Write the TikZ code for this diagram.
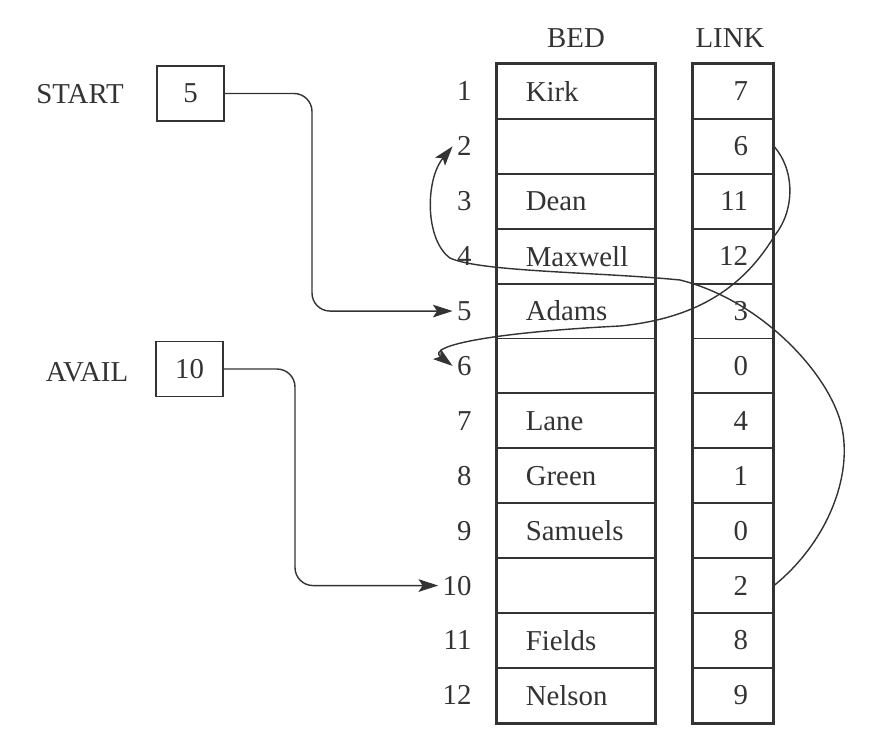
\documentclass[tikz,border=0pt]{standalone}
\usepackage{fontspec}
\setmainfont{Liberation Serif}
\usetikzlibrary{arrows.meta}

\definecolor{ink}{gray}{0.2}

\tikzset{
    every node/.style={font=\fontsize{20.5}{24}\selectfont, text=ink},
    idx/.style={anchor=east, inner sep=3pt},
    bedcell/.style={draw=ink, line width=1.4pt, minimum height=1.3725cm, text width=2.51cm, inner xsep=0.72cm, inner ysep=0pt, align=left},
    linkcell/.style={draw=ink, line width=1.4pt, minimum height=1.3725cm, text width=0.75cm, inner xsep=0.625cm, inner ysep=0pt, align=right},
    frame/.style={draw=ink, line width=2.1pt},
    ptrbox/.style={draw=ink, line width=1.2pt, minimum width=1.675cm, minimum height=1.375cm},
    ptr/.style={draw=ink, line width=1pt, -{Stealth[length=14pt,width=9pt,inset=3pt]}},
}

\begin{document}
\begin{tikzpicture}[x=0.025cm, y=-0.025cm]
    \useasboundingbox (0,0) rectangle (889,731);

    % Headers
    \node (bedhead) at (576, 38) {BED};
    \node (linkhead) at (730, 38) {LINK};

    % BED and LINK arrays
    \foreach \i/\nm/\lk in {1/Kirk/7, 2//6, 3/Dean/11, 4/Maxwell/12, 5/Adams/3, 6//0,
                            7/Lane/4, 8/Green/1, 9/Samuels/0, 10//2, 11/Fields/8, 12/Nelson/9} {
        \node[idx] (idx\i) at (476, 36.55+54.9*\i) {\i};
        \node[bedcell] (bed\i) at (576, 36.55+54.9*\i) {\nm};
        \node[linkcell] (link\i) at (733, 36.55+54.9*\i) {\lk};
    }
    \draw[frame] (bed1.north west) rectangle (bed12.south east);
    \draw[frame] (link1.north west) rectangle (link12.south east);

    % START and AVAIL pointers
    \node (startlbl) at (80, 94) {START};
    \node[ptrbox] (startbox) at (190.5, 93.5) {5};
    \node (availlbl) at (87, 372) {AVAIL};
    \node[ptrbox] (availbox) at (189.5, 369) {10};

    \coordinate (bendS) at (312, 93.5);
    \coordinate (bendA) at (295, 369);
    \draw[ptr, rounded corners=0.45cm] (startbox.east) -- (bendS) |- (idx5.west);
    \draw[ptr, rounded corners=0.45cm] (availbox.east) -- (bendA) |- (idx10.west);

    % Free list links: 10 -> 2 -> 6
    \draw[ptr] (link2.east) .. controls (795,170) and (795,210) .. (775,235)
        .. controls (745,285) and (700,318) .. (620,326)
        .. controls (500,332) and (425,345) .. (idx6.west);
    \draw[ptr] (link10.east) .. controls (830,540) and (855,470) .. (840,420)
        .. controls (825,370) and (760,300) .. (680,280)
        .. controls (600,272) and (480,272) .. (450,258)
        .. controls (425,240) and (425,180) .. (idx2.west);
\end{tikzpicture}
\end{document}
